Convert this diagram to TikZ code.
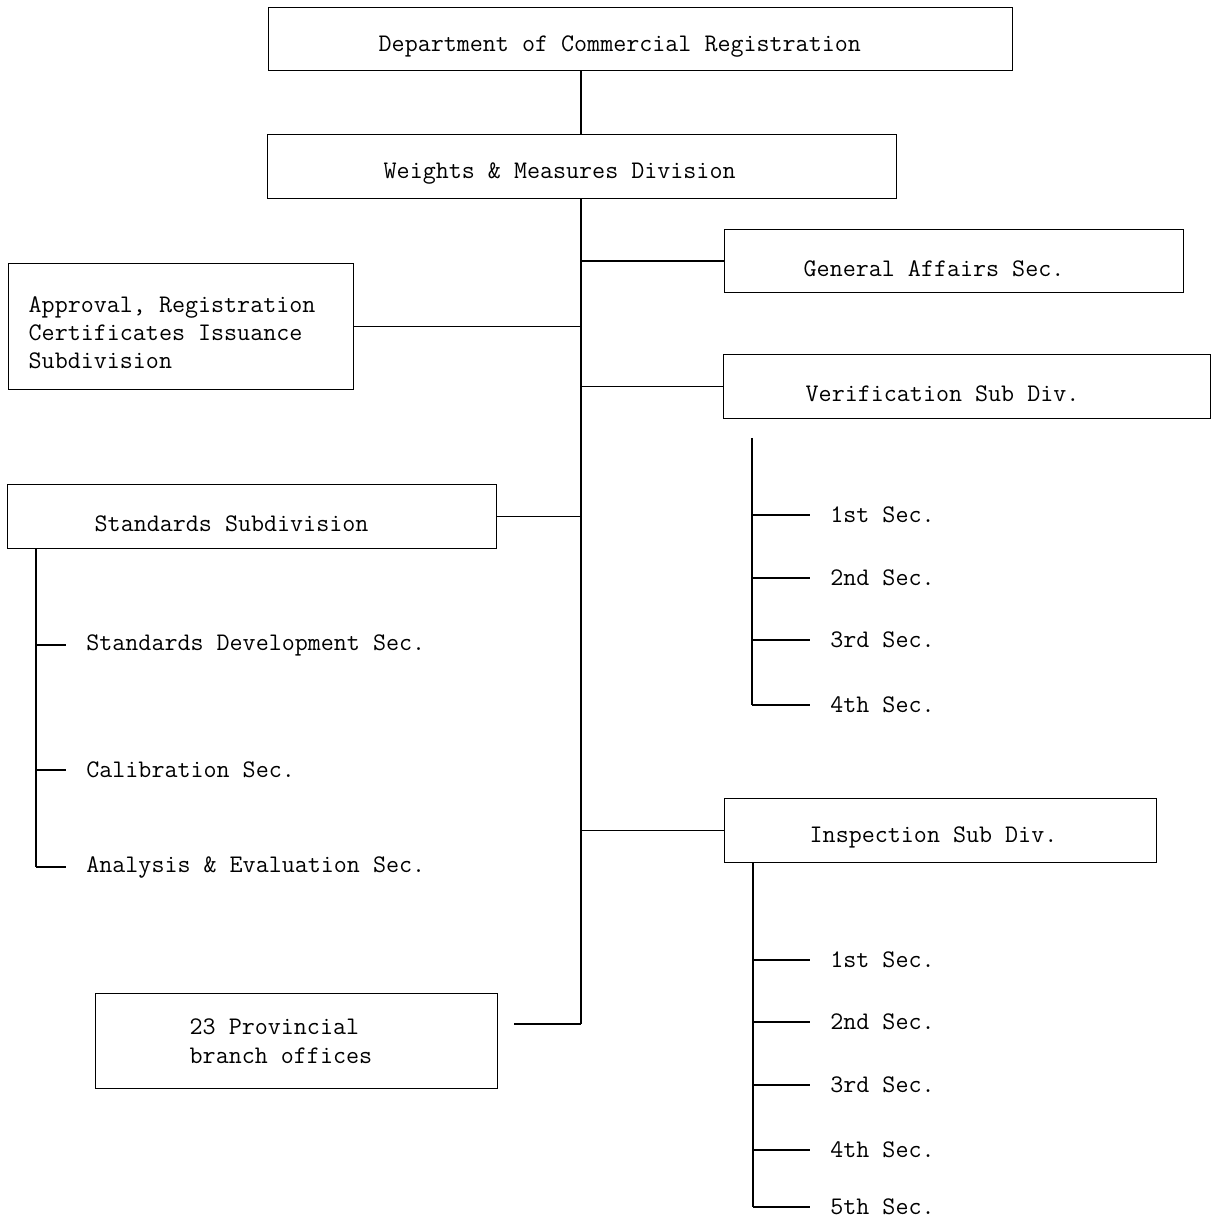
\documentclass[tikz,border=0pt]{standalone}
\begin{document}
\begin{tikzpicture}[
    font=\fontsize{14.4}{16}\selectfont\ttfamily,
    box/.style={draw,thick,anchor=north west,align=left,
        execute at begin node={\spaceskip=0pt\relax}},
    onebox/.style={box,text height=0.6cm},
    sec/.style={anchor=west,inner xsep=0.4cm},
    spine/.style={line width=1.2pt}]
%    \draw[orange,thin] (0.0,0.0) grid (24.0,24.0);
    \useasboundingbox (0,0) rectangle (24.22,24.4);

    % head boxes
    \node[onebox,text width=10.48cm,inner xsep=2.2cm,minimum height=1.26cm] (dept) at (5.36,24.26) {Department of Commercial Registration};
    \node[onebox,text width=7.94cm,inner xsep=2.32cm,minimum height=1.28cm] (wm) at (5.34,21.72) {Weights \& Measures Division};

    % left side
    \node[box,text width=6.1cm,inner xsep=0.4cm,text height=0.55cm,minimum height=2.52cm] (appr) at (0.16,19.14) {Approval, Registration\\Certificates Issuance\\Subdivision};
    \node[onebox,text width=6.3cm,inner xsep=1.74cm,minimum height=1.28cm] (std) at (0.14,14.72) {Standards Subdivision};
    \node[box,text width=4.28cm,inner xsep=1.88cm,minimum height=1.90cm] (prov) at (1.90,4.54) {23 Provincial\\branch offices};

    % right side
    \node[onebox,text width=6.02cm,inner xsep=1.58cm,minimum height=1.26cm] (ga) at (14.48,19.82) {General Affairs Sec.};
    \node[onebox,text width=6.46cm,inner xsep=1.64cm,minimum height=1.28cm] (ver) at (14.46,17.32) {Verification Sub Div.};
    \node[onebox,text width=5.24cm,inner xsep=1.7cm,minimum height=1.28cm] (insp) at (14.48,8.44) {Inspection Sub Div.};

    % main line
    \coordinate (spine) at (11.62,3.92);
    \draw[spine] (dept.south -| spine) -- (wm.north -| spine);
    \draw[spine] (wm.south -| spine) -- (spine);

    \draw[thick] (ga.west) -- (ga.west -| spine);
    \draw[thick] (appr.east) -- (appr.east -| spine);
    \draw[thick] (ver.west) -- (ver.west -| spine);
    \draw[thick] (std.east) -- (std.east -| spine);
    \draw[thick] (insp.west) -- (insp.west -| spine);
    \coordinate (provlink) at (10.28,3.92);
    \draw[thick] (provlink) -- (spine);

    % standards sections
    \coordinate (stdbar) at (0.72,7.06);
    \draw[spine] (std.south -| stdbar) -- (stdbar);
    \foreach \n/\y/\t in {1/11.50/Standards Development Sec., 2/9.00/Calibration Sec., 3/7.06/Analysis \& Evaluation Sec.}{
        \node[sec] (std\n) at (1.32,\y) {\t};
        \draw[thick] (std\n.west -| stdbar) -- (std\n.west);
    }

    % verification sections
    \coordinate (verbar) at (15.04,15.64);
    \coordinate (verend) at (15.04,10.30);
    \draw[spine] (verbar) -- (verend);
    \foreach \n/\y/\t in {1/14.10/1st, 2/12.84/2nd, 3/11.60/3rd, 4/10.30/4th}{
        \node[sec] (ver\n) at (16.20,\y) {\t\ Sec.};
        \draw[thick] (ver\n.west -| verbar) -- (ver\n.west);
    }

    % inspection sections
    \coordinate (inspbar) at (15.06,0.26);
    \draw[spine] (insp.south -| inspbar) -- (inspbar);
    \foreach \n/\y/\t in {1/5.20/1st, 2/3.96/2nd, 3/2.70/3rd, 4/1.40/4th, 5/0.26/5th}{
        \node[sec] (insp\n) at (16.20,\y) {\t\ Sec.};
        \draw[thick] (insp\n.west -| inspbar) -- (insp\n.west);
    }

\end{tikzpicture}
\end{document}
